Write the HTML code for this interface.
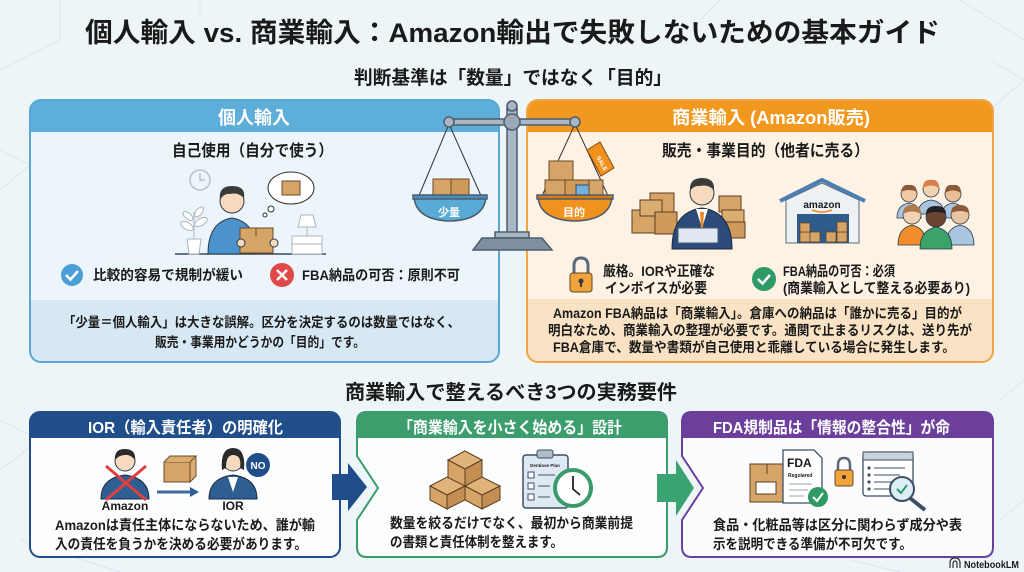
<!DOCTYPE html>
<html><head><meta charset="utf-8"><style>
html,body{margin:0;padding:0;background:#eef5f8;}
svg{display:block;}
text{font-family:"Liberation Sans","Noto Sans CJK JP",sans-serif;font-weight:bold;fill:#1a1a1a;}
.w{fill:#fff;}
</style></head><body>
<svg width="1024" height="572" viewBox="0 0 1024 572" xmlns="http://www.w3.org/2000/svg">
<rect width="1024" height="572" fill="#eef5f8"/>
<g stroke="#dce7ed" stroke-width="1" fill="none">
<path d="M0,70 L60,40 L60,0"/><path d="M0,150 L30,165 L0,190"/><path d="M0,420 L40,440 L0,470"/>
<path d="M960,0 L1024,40"/><path d="M990,60 L1024,80 L990,110"/><path d="M1000,400 L1024,380"/>
<path d="M1000,520 L1024,500"/><path d="M20,540 L120,572"/><path d="M850,560 L900,572"/>
<path d="M200,0 L200,20"/><path d="M720,0 L700,20"/>
</g>

<text x="85" y="42" font-size="27" textLength="855" lengthAdjust="spacingAndGlyphs">個人輸入 vs. 商業輸入：Amazon輸出で失敗しないための基本ガイド</text>
<text x="354" y="84" font-size="19" textLength="318" lengthAdjust="spacingAndGlyphs">判断基準は「数量」ではなく「目的」</text>

<!-- LEFT PANEL -->
<rect x="30" y="100" width="469" height="262" rx="11" fill="#ecf5fa"/>
<path d="M30,132 V111 Q30,100 41,100 H488 Q499,100 499,111 V132 Z" fill="#5daed8"/>
<path d="M30,300 H499 V351 Q499,362 488,362 H41 Q30,362 30,351 Z" fill="#d6e8f3"/>
<rect x="30" y="100" width="469" height="262" rx="11" fill="none" stroke="#5aa8d2" stroke-width="2"/>
<text x="218" y="124" font-size="18" class="w" textLength="72" lengthAdjust="spacingAndGlyphs">個人輸入</text>
<text x="172" y="156" font-size="16" textLength="161" lengthAdjust="spacingAndGlyphs">自己使用（自分で使う）</text>

<g>
<circle cx="200" cy="180" r="10" fill="none" stroke="#b6c2cb" stroke-width="1.5"/>
<path d="M200,173 V180 H205" stroke="#b6c2cb" fill="none" stroke-width="1.5"/>
<line x1="175" y1="254" x2="326" y2="254" stroke="#3a4a5a" stroke-width="1.5"/>
<path d="M187,239 H201 L199,254 H189 Z" fill="#fff" stroke="#aab6c0"/>
<path d="M194,239 V212" stroke="#aab6c0"/>
<ellipse cx="187" cy="226" rx="7" ry="3.5" fill="#fff" stroke="#aab6c0" transform="rotate(30 187 226)"/>
<ellipse cx="201" cy="222" rx="7" ry="3.5" fill="#fff" stroke="#aab6c0" transform="rotate(-30 201 222)"/>
<ellipse cx="188" cy="216" rx="6" ry="3" fill="#fff" stroke="#aab6c0" transform="rotate(40 188 216)"/>
<ellipse cx="199" cy="212" rx="6" ry="3" fill="#fff" stroke="#aab6c0" transform="rotate(-50 199 212)"/>
<rect x="292" y="236" width="30" height="18" fill="#fff" stroke="#aab6c0"/>
<line x1="292" y1="244" x2="322" y2="244" stroke="#aab6c0"/>
<path d="M301,215 H313 L316,227 H298 Z" fill="#fff" stroke="#aab6c0"/>
<path d="M307,227 V236" stroke="#aab6c0"/>
<path d="M208,254 Q208,222 232,218 Q256,222 258,254 Z" fill="#4b93cc" stroke="#2a3a4a"/>
<circle cx="232" cy="201" r="12" fill="#f7d9bd" stroke="#2a3a4a"/>
<path d="M220,200 Q218,186 232,186 Q246,186 244,198 Q238,192 230,194 Q224,193 220,200 Z" fill="#3b3b3b"/>
<rect x="240" y="228" width="33" height="25" fill="#d6a466" stroke="#6a4a2a"/>
<line x1="256" y1="228" x2="256" y2="236" stroke="#6a4a2a"/>
<circle cx="241" cy="243" r="4" fill="#f7d9bd" stroke="#2a3a4a"/>
<circle cx="274" cy="243" r="4" fill="#f7d9bd" stroke="#2a3a4a"/>
<ellipse cx="291" cy="188" rx="23" ry="16" fill="#fff" stroke="#333"/>
<rect x="282" y="181" width="18" height="14" fill="#d6a466" stroke="#6a4a2a"/>
<circle cx="271" cy="209" r="3" fill="#fff" stroke="#333"/>
<circle cx="265" cy="215" r="2" fill="#fff" stroke="#333"/>
</g>

<circle cx="72" cy="275" r="11" fill="#4a9fd8"/>
<path d="M66,275 L70.5,279.5 L78,271" stroke="#fff" stroke-width="2.5" fill="none"/>
<text x="93" y="280" font-size="14" textLength="150" lengthAdjust="spacingAndGlyphs">比較的容易で規制が緩い</text>
<circle cx="282" cy="275" r="12" fill="#e04848"/>
<path d="M277,270 L287,280 M287,270 L277,280" stroke="#fff" stroke-width="2.5"/>
<text x="302" y="280" font-size="14" textLength="158" lengthAdjust="spacingAndGlyphs">FBA納品の可否：原則不可</text>
<text x="63" y="327" font-size="13.5" textLength="397" lengthAdjust="spacingAndGlyphs">「少量＝個人輸入」は大きな誤解。区分を決定するのは数量ではなく、</text>
<text x="155" y="347" font-size="13.5" textLength="210" lengthAdjust="spacingAndGlyphs">販売・事業用かどうかの「目的」です。</text>

<!-- RIGHT PANEL -->
<rect x="527" y="100" width="466" height="262" rx="11" fill="#fdf2e3"/>
<path d="M527,132 V111 Q527,100 538,100 H982 Q993,100 993,111 V132 Z" fill="#f3981f"/>
<path d="M527,299 H993 V351 Q993,362 982,362 H538 Q527,362 527,351 Z" fill="#fae3c4"/>
<rect x="527" y="100" width="466" height="262" rx="11" fill="none" stroke="#efa445" stroke-width="2"/>
<text x="672" y="124" font-size="18" class="w" textLength="198" lengthAdjust="spacingAndGlyphs">商業輸入 (Amazon販売)</text>
<text x="662" y="156" font-size="16" textLength="207" lengthAdjust="spacingAndGlyphs">販売・事業目的（他者に売る）</text>

<g stroke="#5a3e22" stroke-width="1">
<rect x="632" y="210" width="26" height="23" fill="#d6a466"/>
<rect x="650" y="193" width="24" height="20" fill="#d6a466"/>
<rect x="640" y="200" width="22" height="16" fill="#dcad70"/>
<rect x="655" y="212" width="22" height="22" fill="#d09a5a"/>
<rect x="719" y="196" width="22" height="16" fill="#d6a466"/>
<rect x="722" y="210" width="22" height="14" fill="#dcad70"/>
<rect x="724" y="222" width="21" height="16" fill="#d09a5a"/>
</g>
<path d="M672,249 Q672,212 702,208 Q732,212 732,249 Z" fill="#2c4a7a" stroke="#1a2a40"/>
<path d="M696,209 L702,228 L708,209 Z" fill="#fff"/>
<path d="M700,212 L704,212 L703,228 L701,228 Z" fill="#f08a1e"/>
<circle cx="702" cy="193" r="12" fill="#f7d9bd" stroke="#2a3a4a"/>
<path d="M690,191 Q689,178 702,178 Q715,178 714,190 Q708,184 700,186 Q694,185 690,191 Z" fill="#3b3b3b"/>
<rect x="678" y="228" width="40" height="15" fill="#dfe8f1" stroke="#4a5a6a"/>

<path d="M786,200 L822,183 L859,200 V243 H786 Z" fill="#eef1f4" stroke="#5a6a7a"/>
<path d="M780,201 L822,180 L865,201" fill="none" stroke="#4a7fb0" stroke-width="4"/>
<text x="822" y="208" font-size="10" text-anchor="middle" fill="#2a3a4a">amazon</text>
<path d="M812,210 Q822,214 832,210" stroke="#f08a1e" stroke-width="1.5" fill="none"/>
<rect x="797" y="214" width="52" height="29" fill="#2f5c8a"/>
<g fill="#d6a466" stroke="#5a3e22" stroke-width="0.7">
<rect x="800" y="232" width="10" height="10"/><rect x="810" y="232" width="10" height="10"/>
<rect x="800" y="223" width="10" height="9"/><rect x="826" y="232" width="10" height="10"/>
<rect x="837" y="232" width="10" height="10"/><rect x="837" y="222" width="10" height="10"/>
</g>

<g stroke="#2a3a4a" stroke-width="0.8">
<path d="M897,218 Q897,205 909,203 Q921,205 921,218 Z" fill="#a9c5df"/>
<circle cx="909" cy="194" r="8" fill="#f1c9a5"/>
<path d="M918,214 Q918,202 931,200 Q944,202 944,214 Z" fill="#a9c5df"/>
<circle cx="931" cy="189" r="8" fill="#f3d2b2"/>
<path d="M941,218 Q941,205 953,203 Q965,205 965,218 Z" fill="#a9c5df"/>
<circle cx="953" cy="194" r="8" fill="#e8bd98"/>
<path d="M898,245 Q898,228 912,225 Q926,228 926,245 Z" fill="#f08c2a"/>
<circle cx="912" cy="215" r="9" fill="#f3d2b2"/>
<path d="M946,245 Q946,228 960,225 Q974,228 974,245 Z" fill="#a9c5df"/>
<circle cx="960" cy="215" r="9" fill="#eac3a0"/>
<path d="M920,249 Q920,230 936,227 Q952,230 952,249 Z" fill="#3aa36a"/>
<circle cx="936" cy="217" r="10" fill="#6b4530"/>
</g>
<g fill="#8a5a3a"><path d="M901,192 Q902,184 909,185 Q916,184 917,192 Q909,188 901,192Z"/><path d="M923,188 Q923,179 931,180 Q939,179 939,188 Q931,183 923,188Z" fill="#d9804a"/><path d="M945,193 Q945,184 953,185 Q961,184 961,193 Q953,188 945,193Z"/><path d="M903,214 Q903,205 912,205 Q921,205 921,214 Q912,209 903,214Z" fill="#b07a4a"/><path d="M951,213 Q951,205 960,205 Q969,205 969,213 Q960,209 951,213Z"/><path d="M926,214 Q926,206 936,206 Q946,206 946,214 Q936,210 926,214Z" fill="#222"/></g>

<path d="M574,274 V266 Q574,258 581,258 Q588,258 588,266 V274" fill="none" stroke="#5a6a7a" stroke-width="3"/>
<rect x="570" y="273" width="22" height="19" rx="3" fill="#f2a33a" stroke="#5a4a2a"/>
<circle cx="581" cy="281" r="2.5" fill="#3a3a3a"/><rect x="580" y="282" width="2" height="5" fill="#3a3a3a"/>
<text x="603" y="276" font-size="14" textLength="112" lengthAdjust="spacingAndGlyphs">厳格。IORや正確な</text>
<text x="605" y="293" font-size="14" textLength="102" lengthAdjust="spacingAndGlyphs">インボイスが必要</text>
<circle cx="764" cy="279" r="12" fill="#2e9a66"/>
<path d="M758,279 L762.5,283.5 L770,275" stroke="#fff" stroke-width="2.5" fill="none"/>
<text x="783" y="276" font-size="14" textLength="112" lengthAdjust="spacingAndGlyphs">FBA納品の可否：必須</text>
<text x="783" y="293" font-size="14" textLength="187" lengthAdjust="spacingAndGlyphs">(商業輸入として整える必要あり)</text>
<text x="553" y="318" font-size="13.5" textLength="409" lengthAdjust="spacingAndGlyphs">Amazon FBA納品は「商業輸入」。倉庫への納品は「誰かに売る」目的が</text>
<text x="548" y="335" font-size="13.5" textLength="424" lengthAdjust="spacingAndGlyphs">明白なため、商業輸入の整理が必要です。通関で止まるリスクは、送り先が</text>
<text x="553" y="352" font-size="13.5" textLength="402" lengthAdjust="spacingAndGlyphs">FBA倉庫で、数量や書類が自己使用と乖離している場合に発生します。</text>

<!-- SCALE -->
<g stroke="#4d5d6e" stroke-width="1.5">
<path d="M449,124 L418,198 M449,124 L482,198" fill="none" stroke="#333" stroke-width="1"/>
<path d="M575,124 L541,198 M575,124 L609,198" fill="none" stroke="#333" stroke-width="1"/>
<rect x="507" y="108" width="10" height="128" fill="#a9b6c3"/>
<circle cx="512" cy="106" r="5" fill="#a9b6c3"/>
<rect x="448" y="119" width="128" height="6" fill="#a9b6c3"/>
<circle cx="512" cy="122" r="8" fill="#9aa8b6"/>
<circle cx="449" cy="122" r="5" fill="#a9b6c3"/>
<circle cx="575" cy="122" r="5" fill="#a9b6c3"/>
<rect x="495" y="232" width="34" height="6" fill="#a9b6c3"/>
<path d="M482,238 H542 L552,250 H473 Z" fill="#7f8fa0"/>
<rect x="433" y="179" width="18" height="19" fill="#d6a466" stroke="#6a4a2a" stroke-width="1"/>
<rect x="451" y="179" width="18" height="19" fill="#d09a5a" stroke="#6a4a2a" stroke-width="1"/>
<path d="M414,197 H486 Q484,220 450,221 Q416,220 414,197 Z" fill="#5aaad6"/>
<rect x="413" y="195" width="74" height="4" fill="#4a8fbf"/>
<rect x="549" y="161" width="24" height="20" fill="#d6a466" stroke="#6a4a2a" stroke-width="1"/>
<rect x="545" y="180" width="20" height="18" fill="#d6a466" stroke="#6a4a2a" stroke-width="1"/>
<rect x="565" y="180" width="24" height="18" fill="#d09a5a" stroke="#6a4a2a" stroke-width="1"/>
<rect x="576" y="185" width="14" height="12" fill="#6fb2df" stroke="#2a4a6a" stroke-width="1"/>
<rect x="589" y="180" width="14" height="18" fill="#d6a466" stroke="#6a4a2a" stroke-width="1"/>
<path d="M538,197 H612 Q610,220 575,221 Q540,220 538,197 Z" fill="#f0921e"/>
<rect x="537" y="195" width="76" height="4" fill="#d87a10"/>
<path d="M587,150 L600,142 L614,168 L601,176 Z" fill="#f0921e" stroke="#8a4a10" stroke-width="1"/>
</g>
<text x="438" y="216" font-size="11" class="w">少量</text>
<text x="563" y="216" font-size="11" class="w">目的</text>
<text x="596" y="162" font-size="6" class="w" transform="rotate(60 600 160)">SALE</text>

<text x="345" y="399" font-size="20" textLength="332" lengthAdjust="spacingAndGlyphs">商業輸入で整えるべき3つの実務要件</text>

<!-- CARD 1 -->
<rect x="30" y="412" width="310" height="145" rx="10" fill="#fcfdfe" stroke="#1f4e8b" stroke-width="2"/>
<path d="M30,438 V422 Q30,412 40,412 H330 Q340,412 340,422 V438 Z" fill="#1f4e8b"/>
<text x="88" y="433" font-size="16" class="w" textLength="195" lengthAdjust="spacingAndGlyphs">IOR（輸入責任者）の明確化</text>
<path d="M101,499 Q101,478 125,475 Q149,478 149,499 Z" fill="#2f5f92" stroke="#1a2a40"/>
<circle cx="125" cy="461" r="10" fill="#f7d9bd" stroke="#2a3a4a"/>
<path d="M115,460 Q114,449 125,449 Q136,449 135,460 Q130,454 125,455 Q119,455 115,460Z" fill="#2a2a2a"/>
<path d="M106,466 L146,500 M146,466 L106,500" stroke="#e04040" stroke-width="3"/>
<text x="125" y="510" font-size="12" text-anchor="middle">Amazon</text>
<rect x="164" y="462" width="26" height="20" fill="#d6a466" stroke="#6a4a2a"/>
<path d="M164,462 L170,456 H196 L190,462 M190,462 V482 L196,476 V456" fill="#dcad70" stroke="#6a4a2a"/>
<path d="M157,492 H192" stroke="#3a6aa0" stroke-width="3"/>
<path d="M190,487 L199,492 L190,497 Z" fill="#2f5f92"/>
<path d="M209,499 Q209,478 233,475 Q257,478 257,499 Z" fill="#2f5f92" stroke="#1a2a40"/>
<path d="M228,477 L233,492 L238,477 Z" fill="#fff"/>
<circle cx="233" cy="461" r="10" fill="#f7d9bd" stroke="#2a3a4a"/>
<path d="M222,470 Q220,448 233,448 Q246,448 244,470 L240,468 Q242,455 233,455 Q226,455 226,468 Z" fill="#2a2a2a"/>
<circle cx="258" cy="465" r="12" fill="#1f4e8b"/>
<text x="258" y="469" font-size="10" class="w" text-anchor="middle">NO</text>
<text x="233" y="510" font-size="12" text-anchor="middle">IOR</text>
<text x="55" y="530" font-size="14" textLength="260" lengthAdjust="spacingAndGlyphs">Amazonは責任主体にならないため、誰が輸</text>
<text x="55" y="549" font-size="14" textLength="252" lengthAdjust="spacingAndGlyphs">入の責任を負うかを決める必要があります。</text>

<!-- CARD 2 -->
<path d="M367,412 H657 Q667,412 667,422 V547 Q667,557 657,557 H367 Q357,557 357,547 V520 L378,488 L357,456 V422 Q357,412 367,412 Z" fill="#fcfdfd" stroke="#3a9a6a" stroke-width="2"/>
<path d="M357,438 V422 Q357,412 367,412 H657 Q667,412 667,422 V438 Z" fill="#3c9d6d"/>
<text x="398" y="433" font-size="16" class="w" textLength="224" lengthAdjust="spacingAndGlyphs">「商業輸入を小さく始める」設計</text>
<g stroke="#5a3e22" stroke-width="1">
<path d="M448,460 L465,451 L482,460 L465,469 Z" fill="#e0b478"/>
<path d="M448,460 V480 L465,489 V469 Z" fill="#d6a466"/>
<path d="M482,460 V480 L465,489 V469 Z" fill="#c48e52"/>
<path d="M430,486 L447,477 L465,486 L447,495 Z" fill="#e0b478"/>
<path d="M430,486 V500 L447,509 V495 Z" fill="#d6a466"/>
<path d="M465,486 V500 L447,509 V495 Z" fill="#c48e52"/>
<path d="M465,486 L482,477 L500,486 L482,495 Z" fill="#e0b478"/>
<path d="M465,486 V500 L482,509 V495 Z" fill="#d6a466"/>
<path d="M500,486 V500 L482,509 V495 Z" fill="#c48e52"/>
</g>
<rect x="523" y="455" width="45" height="53" rx="3" fill="#dfe9f3" stroke="#3d4f63" stroke-width="1.5"/>
<rect x="537" y="450" width="16" height="8" rx="2" fill="#b0bcc8" stroke="#3d4f63"/>
<text x="545" y="467" font-size="4.5" text-anchor="middle">Dentiose Plan</text>
<g stroke="#3d4f63" stroke-width="1" fill="#fff">
<rect x="528" y="472" width="6" height="6"/><rect x="528" y="483" width="6" height="6"/><rect x="528" y="494" width="6" height="6"/>
<path d="M538,475 H555 M538,486 H550 M538,497 H550" fill="none"/>
</g>
<circle cx="573" cy="488" r="18" fill="#fff" stroke="#3a9a6a" stroke-width="4"/>
<path d="M573,476 V489 L580,495" stroke="#222" stroke-width="1.8" fill="none"/>
<text x="390" y="528" font-size="14" textLength="243" lengthAdjust="spacingAndGlyphs">数量を絞るだけでなく、最初から商業前提</text>
<text x="390" y="547" font-size="14" textLength="173" lengthAdjust="spacingAndGlyphs">の書類と責任体制を整えます。</text>

<!-- CARD 3 -->
<path d="M692,412 H983 Q993,412 993,422 V547 Q993,557 983,557 H692 Q682,557 682,547 V520 L703,488 L682,456 V422 Q682,412 692,412 Z" fill="#fcfcfe" stroke="#6b3f9b" stroke-width="2"/>
<path d="M682,438 V422 Q682,412 692,412 H983 Q993,412 993,422 V438 Z" fill="#6b3f9b"/>
<text x="713" y="433" font-size="16" class="w" textLength="237" lengthAdjust="spacingAndGlyphs">FDA規制品は「情報の整合性」が命</text>
<rect x="750" y="464" width="34" height="38" fill="#d6a466" stroke="#5a3e22"/>
<rect x="756" y="482" width="20" height="12" fill="#fff" stroke="#5a3e22"/>
<path d="M767,464 V474" stroke="#5a3e22"/>
<path d="M783,450 H814 L822,458 V503 H783 Z" fill="#fff" stroke="#3d4f63" stroke-width="1.3"/>
<text x="787" y="467" font-size="12" fill="#3d4f63">FDA</text>
<text x="788" y="477" font-size="5" fill="#3d4f63">Regolared</text>
<path d="M789,484 H812 M789,490 H808 M789,496 H804" stroke="#9aa6b2"/>
<circle cx="818" cy="497" r="10" fill="#2e9a66"/>
<path d="M813,497 L817,501 L823,493" stroke="#fff" stroke-width="2" fill="none"/>
<path d="M838,471 V465 Q838,458 844,458 Q850,458 850,465 V471" fill="none" stroke="#5a6a7a" stroke-width="2.5"/>
<rect x="835" y="470" width="18" height="16" rx="2" fill="#f2a33a" stroke="#5a4a2a"/>
<circle cx="844" cy="477" r="2" fill="#333"/>
<rect x="863" y="452" width="50" height="44" rx="3" fill="#fff" stroke="#3d4f63" stroke-width="1.3"/>
<rect x="863" y="452" width="50" height="8" fill="#c8d2dc" stroke="#3d4f63" stroke-width="1"/>
<g fill="#3d4f63"><circle cx="869" cy="468" r="1.6"/><circle cx="869" cy="475" r="1.6"/><circle cx="869" cy="482" r="1.6"/><circle cx="869" cy="489" r="1.6"/></g>
<path d="M874,468 H905 M874,475 H900 M874,482 H892 M874,489 H890" stroke="#3d4f63"/>
<path d="M910,498 L925,510" stroke="#3d4f63" stroke-width="4"/>
<circle cx="902" cy="489" r="12" fill="#dceef6" stroke="#3d4f63" stroke-width="2"/>
<path d="M897,489 L901,493 L907,485" stroke="#2e9a66" stroke-width="2" fill="none"/>
<text x="713" y="530" font-size="14" textLength="249" lengthAdjust="spacingAndGlyphs">食品・化粧品等は区分に関わらず成分や表</text>
<text x="713" y="549" font-size="14" textLength="199" lengthAdjust="spacingAndGlyphs">示を説明できる準備が不可欠です。</text>

<path d="M332,474 H348 V463 L367,487 L348,511 V500 H332 Z" fill="#1f4e8b"/>
<path d="M657,474 H676 V460 L694,488 L676,516 V502 H657 Z" fill="#3aa372"/>

<!-- NotebookLM -->
<path d="M950,568 V563 Q950,558 955,558 Q960,558 960,563 V568 M953,568 V564 Q953,561 955,561 Q957,561 957,564 V568" fill="none" stroke="#333" stroke-width="1.2"/>
<text x="1019" y="568" font-size="10.5" fill="#333" text-anchor="end" textLength="55" lengthAdjust="spacingAndGlyphs">NotebookLM</text>
</svg>
</body></html>
